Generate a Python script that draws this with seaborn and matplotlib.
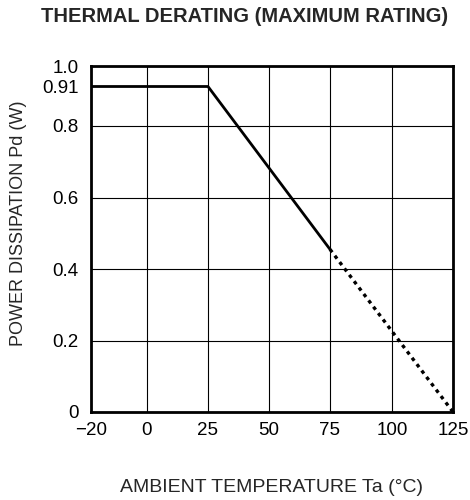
import numpy as np
import pandas as pd
import matplotlib
matplotlib.use("Agg")
import matplotlib.pyplot as plt
import seaborn as sns

# curve data
temp_solid = [-20, 25, 75]
power_solid = [0.91, 0.91, 0.455]
temp_dotted = [75, 125]
power_dotted = [0.455, 0.0]

x_ticks = [-20, 0, 25, 50, 75, 100, 125]
y_ticks = [0, 0.2, 0.4, 0.6, 0.8, 0.91, 1.0]
y_ticklabels = ["0", "0.2", "0.4", "0.6", "0.8", "0.91", "1.0"]

# the printed graph is not evenly scaled: -20..0 and 0.91..1.0 are squeezed
x_pos = [0, 56, 117, 178, 239, 301, 362]
y_pos = [0, 71.5, 143, 214.5, 286.5, 325.5, 346]

sns.set_style("white")
plt.rcParams["font.family"] = ["Liberation Sans", "DejaVu Sans"]

fig = plt.figure(figsize=(4.7, 5.0), dpi=100)
ax = fig.add_axes([91 / 470, 88 / 500, 362 / 470, 346 / 500])

ax.set_xscale("function", functions=(lambda v: np.interp(v, x_ticks, x_pos),
                                     lambda p: np.interp(p, x_pos, x_ticks)))
ax.set_yscale("function", functions=(lambda v: np.interp(v, y_ticks, y_pos),
                                     lambda p: np.interp(p, y_pos, y_ticks)))

solid = pd.DataFrame({"temp": temp_solid, "power": power_solid})
dotted = pd.DataFrame({"temp": temp_dotted, "power": power_dotted})
sns.lineplot(data=solid, x="temp", y="power", ax=ax, color="black", lw=2.0,
             estimator=None, sort=False)
sns.lineplot(data=dotted, x="temp", y="power", ax=ax, color="black", lw=2.4,
             estimator=None, sort=False, linestyle=(0, (1.1, 1.3)))

ax.set_xlim(-20, 125)
ax.set_ylim(0, 1.0)
ax.set_xticks(x_ticks)
ax.set_xticklabels([str(t).replace("-", "\u2212") for t in x_ticks])
ax.set_yticks(y_ticks)
ax.set_yticklabels(y_ticklabels)
ax.tick_params(length=0, labelsize=13.5, colors="black")
ax.tick_params(axis="x", pad=7)
ax.tick_params(axis="y", pad=9)

ax.grid(True, color="black", lw=0.8)
for v, gl in zip(y_ticks, ax.yaxis.get_gridlines()):
    if v == 0.91:
        gl.set_visible(False)

for s in ax.spines.values():
    s.set_color("black")
    s.set_linewidth(2.0)

ax.set_xlabel("AMBIENT TEMPERATURE Ta (°C)", fontsize=14, labelpad=29)
ax.set_ylabel("POWER DISSIPATION Pd (W)", fontsize=13)
ax.yaxis.set_label_coords(-0.176, 0.545)
fig.text(0.52, 0.966, "THERMAL DERATING (MAXIMUM RATING)", ha="center",
         va="center", fontsize=14.5, fontweight="bold")

fig.savefig("out.png", dpi=100)
